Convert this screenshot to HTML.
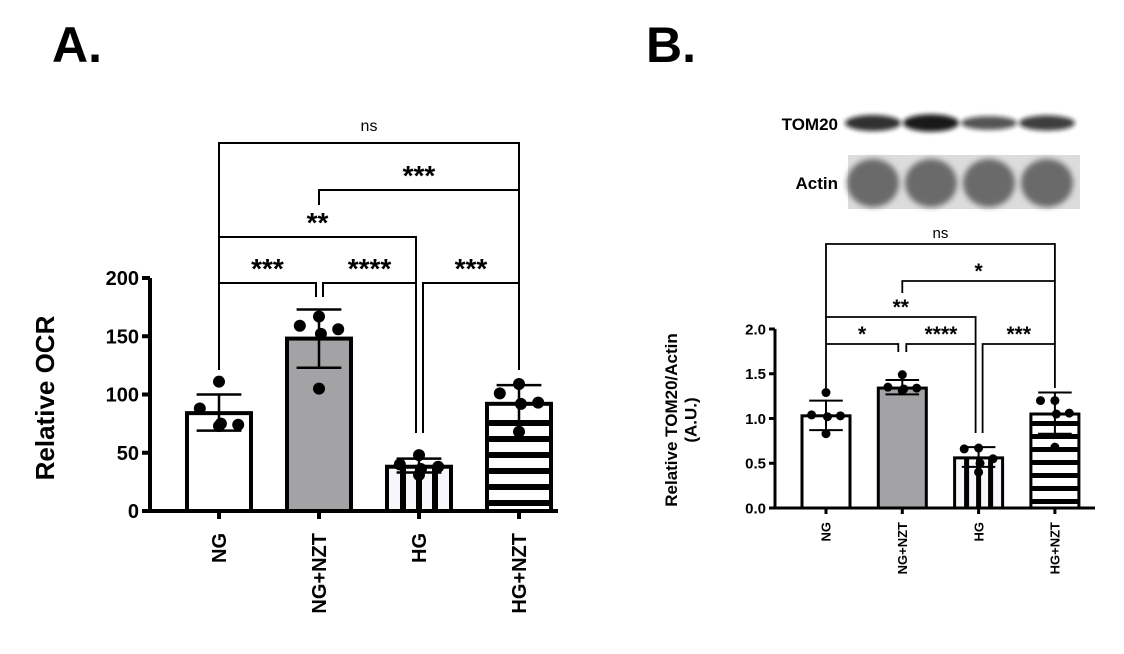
<!DOCTYPE html>
<html><head><meta charset="utf-8"><style>
html,body{margin:0;padding:0;background:#fff;}
svg{display:block;font-family:"Liberation Sans",Arial,sans-serif;}
</style></head><body>
<svg id="fig" width="1124" height="654" viewBox="0 0 1124 654" xmlns="http://www.w3.org/2000/svg">
<defs>
<filter id="blur" x="-20%" y="-50%" width="140%" height="200%"><feGaussianBlur stdDeviation="2.5"/></filter>
<filter id="blur2"><feGaussianBlur stdDeviation="3"/></filter>
</defs>
<text x="52" y="62" font-size="50" font-weight="900">A.</text>
<text x="646" y="62" font-size="50" font-weight="900">B.</text>
<g id="blot">
<text x="838" y="130" font-size="17" font-weight="bold" text-anchor="end">TOM20</text>
<text x="838" y="189" font-size="17" font-weight="bold" text-anchor="end">Actin</text>
<rect x="848" y="155" width="232" height="54" fill="#dcdcdc"/>
</g>
<g id="chartA"></g>
<g id="chartB"></g>
</svg>
<script>
const cats = ["NG","NG+NZT","HG","HG+NZT"];
const meansA = [84,148,38,92];
const errLoA = [69,123,33,77];
const errHiA = [100,173,45,108];
const ptsA = [[111,88,74,75,73],[167,159,156,152,105],[48,40,38,36,31],[109,101,93,92,68]];
const ticksA = [0,50,100,150,200];
const meansB = [1.03,1.34,0.56,1.05];
const errLoB = [0.87,1.27,0.46,0.83];
const errHiB = [1.2,1.43,0.68,1.29];
const ptsB = [[1.29,1.04,1.03,1.02,0.83],[1.49,1.35,1.34,1.33,1.31],[0.67,0.66,0.55,0.5,0.4],[1.2,1.2,1.06,1.05,0.68]];
const ticksB = ["0.0","0.5","1.0","1.5","2.0"];
const tomIntensity = [0.85,0.95,0.7,0.8];
const NS="http://www.w3.org/2000/svg";
function mk(parent,tag,attrs,txt){const e=document.createElementNS(NS,tag);for(const k in attrs)e.setAttribute(k,attrs[k]);if(txt!==undefined)e.textContent=txt;parent.appendChild(e);return e;}

const blot=document.getElementById('blot');
tomIntensity.forEach((v,i)=>{
  const cx=873+i*58;
  const e=mk(blot,'ellipse',{cx:cx,cy:123,rx:28,ry:7*v+2,fill:'#111',filter:'url(#blur)',opacity:v});
  
  
  const a=mk(blot,'ellipse',{cx:cx,cy:183,rx:26,ry:24,fill:'#6a6a6a',filter:'url(#blur2)'});
  
  
});

function drawChart(g,o){
  const y=v=>o.y0-(v/o.max)*(o.y0-o.yTop);
  const x=i=>o.cx0+i*o.dx;
  const sw=o.sw;
  o.means.forEach((m,i)=>{
    const bx=x(i)-o.bw/2, by=y(m), bh=o.y0-by;
    let fill = i===1?'#a3a3a6':(i===2?'#f7f6fb':'#fff');
    const r=mk(g,'rect',{x:bx,y:by,width:o.bw,height:bh,fill:fill,stroke:'#000','stroke-width':sw});
    
    
    if(i===2){
      for(let k=1;k<4;k++){const sx=bx+k*o.bw/4;
        const l=mk(g,'line',{x1:sx,x2:sx,y1:by,y2:o.y0,stroke:'#000','stroke-width':o.stripe});
        }
    }
    if(i===3){
      const step=o.hstep;
      for(let sy=o.y0-step/2; sy>by+4; sy-=step){
        const l=mk(g,'line',{x1:bx,x2:bx+o.bw,y1:sy,y2:sy,stroke:'#000','stroke-width':o.stripe});
        }
    }
    const ew=o.bw*0.35;
    const eb=mk(g,'path',{d:`M${x(i)},${y(o.lo[i])}V${y(o.hi[i])}M${x(i)-ew},${y(o.hi[i])}H${x(i)+ew}M${x(i)-ew},${y(o.lo[i])}H${x(i)+ew}`,stroke:'#000','stroke-width':o.esw,fill:'none'});
    
    o.pts[i].forEach((p,j)=>{
      const jitter=[0,-1,1,0.1,0][j]*o.bw*0.3;
      const c=mk(g,'circle',{cx:x(i)+jitter,cy:y(p),r:o.pr,fill:'#000'});
      
    });
  });
  const ax=mk(g,'path',{d:`M${o.ax},${o.yTop}V${o.y0}H${o.axEnd}`,stroke:'#000','stroke-width':sw,fill:'none'});
  
  o.ticks.forEach(t=>{
    const v=parseFloat(t);
    const tl=mk(g,'line',{x1:o.ax-o.tk,x2:o.ax,y1:y(v),y2:y(v),stroke:'#000','stroke-width':sw});
    
    const tt=mk(g,'text',{x:o.ax-o.tk-3,y:y(v)+o.fs*0.36,'font-size':o.fs,'font-weight':'bold','text-anchor':'end'},t);
    
  });
  cats.forEach((c,i)=>{
    const tl=mk(g,'line',{x1:x(i),x2:x(i),y1:o.y0,y2:o.y0+o.tk,stroke:'#000','stroke-width':sw});
    
    const tx=mk(g,'text',{x:0,y:0,'font-size':o.xfs,'font-weight':'bold','text-anchor':'end',transform:`translate(${x(i)+o.xfs*0.36},${o.y0+o.xlab}) rotate(-90)`},c);
    
  });
  o.br.forEach(b=>{
    const x1=x(b[0])+(b[5]||0), x2=x(b[1])+(b[6]||0);
    const p=mk(g,'path',{d:`M${x1},${b[3]}V${b[2]}H${x2}V${b[4]}`,stroke:'#000','stroke-width':o.bsw,fill:'none'});
    
    const t=mk(g,'text',{x:(x1+x2)/2,y:b[2]-(b[7]==='ns'?o.nsGap:o.starGap),'font-size':b[7]==='ns'?o.nsfs:o.starfs,'font-weight':b[7]==='ns'?'normal':'bold','text-anchor':'middle'},b[7]);
    
  });
  const yt=mk(g,'text',{x:0,y:0,'font-size':o.ytfs,'font-weight':'bold','text-anchor':'middle',transform:`translate(${o.ytx},${o.yty}) rotate(-90)`});
  
  o.ytitle.forEach((l,k)=>{mk(yt,'tspan',{x:0,dy:k===0?0:o.ytfs*1.15},l);});
}

drawChart(document.getElementById('chartA'),{
  y0:511,yTop:278,max:200,cx0:219,dx:100,bw:64,sw:4,esw:2.5,pr:6,stripe:6,hstep:16,
  means:meansA,lo:errLoA,hi:errHiA,pts:ptsA,ticks:ticksA.map(String),
  ax:150,axEnd:558,tk:8,fs:20,xfs:20,xlab:22,
  br:[[0,1,283,370,297,0,-3,'***'],[1,2,283,297,433,4,-3,'****'],[2,3,283,433,370,4,0,'***'],
      [0,2,237,283,283,0,-3,'**'],[1,3,190,205,283,0,0,'***'],[0,3,143,237,190,0,0,'ns']],
  bsw:2,nsGap:12,starGap:5,nsfs:16,starfs:28,
  ytfs:26,ytx:54,yty:398,ytitle:['Relative OCR']
});
drawChart(document.getElementById('chartB'),{
  y0:508,yTop:329,max:2,cx0:826,dx:76.3,bw:48,sw:3,esw:2,pr:4.5,stripe:5,hstep:13,
  means:meansB,lo:errLoB,hi:errHiB,pts:ptsB,ticks:ticksB,
  ax:775,axEnd:1095,tk:6,fs:15,xfs:13,xlab:14,
  br:[[0,1,344,388,352,0,-4,'*'],[1,2,344,352,433,4,-3,'****'],[2,3,344,433,388,4,0,'***'],
      [0,2,317,344,344,0,-3,'**'],[1,3,281,293,344,0,0,'*'],[0,3,244,317,281,0,0,'ns']],
  bsw:1.8,nsGap:6,starGap:3,nsfs:15,starfs:21,
  ytfs:17,ytx:677,yty:420,ytitle:['Relative TOM20/Actin','(A.U.)']
});
</script>
</body></html>
